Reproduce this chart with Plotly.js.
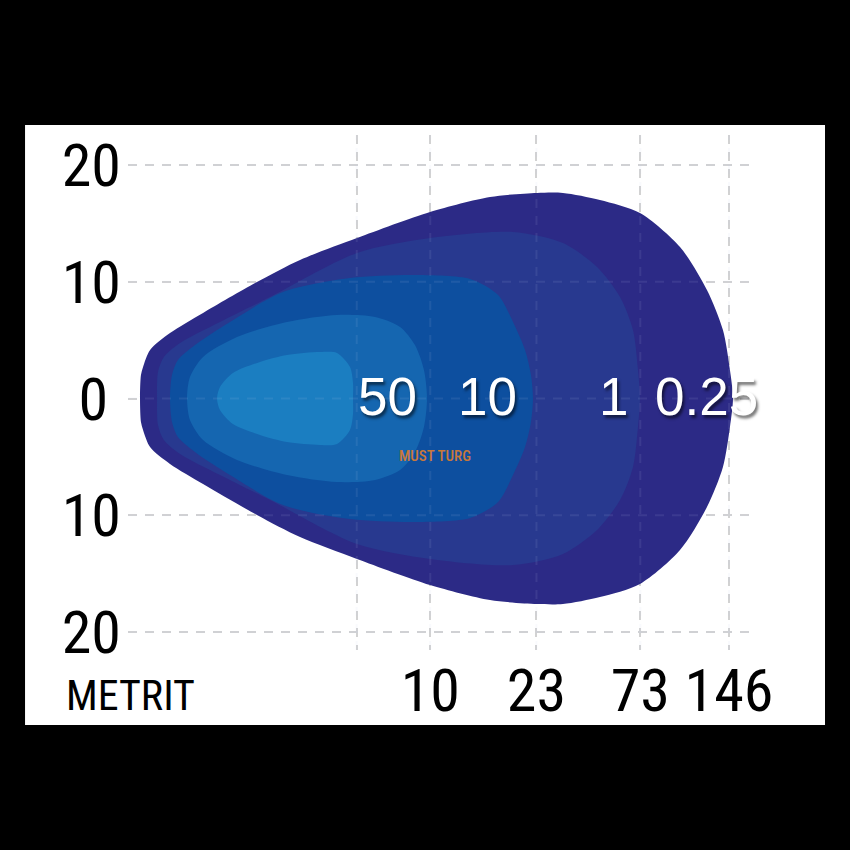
<!DOCTYPE html>
<html>
<head>
<meta charset="utf-8">
<script src="https://cdn.plot.ly/plotly-3.0.1.min.js"></script>
<style>html,body{margin:0;padding:0;background:#000;}#chart{width:850px;height:850px;}</style>
</head>
<body>
<div id="chart"></div>
<script>
// ---- data (chart units: lateral metres on y, schematic distance scale on x) ----
// distance grid lines and their labels
const distTicks = [19.6, 25.9, 35.0, 43.9, 51.5];
const distLabels = ['', '10', '23', '73', '146'];
// lateral ticks
const latTicks = [-20, -10, 0, 10, 20];
const latLabels = ['20', '10', '0', '10', '20'];

// isolux levels (lux) and their label positions along the centre line
const luxLevels = ['0.25', '1', '10', '50', 'core'];
const luxLabelText = ['50', '10', '1', '0.25'];
const luxLabelX = [22.2, 30.8, 41.6, 49.6];

// upper half outlines of each isolux contour (beam is symmetric about 0)
const c025X = [1.03, 1.11, 1.29, 1.89, 3.60, 6.43, 11.05, 14.74, 19.62, 25.88, 31.02, 35.05, 37.27, 40.44, 43.87, 47.30, 49.61, 50.98, 51.58, 51.84];
const c025Y = [0, 2.01, 2.70, 4.16, 5.61, 7.33, 9.98, 11.87, 13.75, 15.98, 17.27, 17.61, 17.61, 17.01, 15.89, 12.98, 9.30, 5.87, 2.44, 0];

const c1X = [2.49, 2.57, 3.08, 4.46, 7.88, 12.17, 19.62, 25.88, 32.99, 37.27, 40.19, 42.16, 43.27, 43.70, 43.87];
const c1Y = [0, 2.27, 3.56, 4.76, 6.56, 8.70, 12.47, 13.75, 14.27, 13.32, 11.27, 8.70, 5.87, 2.44, 0];

const c10X = [3.60, 3.77, 4.28, 5.74, 8.74, 13.28, 19.02, 24.76, 29.31, 31.71, 32.99, 34.02, 34.53, 34.70];
const c10Y = [0, 2.01, 3.30, 4.58, 6.56, 9.13, 10.33, 10.58, 10.24, 8.87, 6.56, 4.16, 2.01, 0];

const c50X = [5.06, 5.31, 6.43, 9.34, 13.62, 17.91, 21.17, 23.31, 24.59, 25.36, 25.62];
const c50Y = [0, 1.84, 3.56, 5.27, 6.56, 7.16, 6.98, 6.13, 4.58, 2.44, 0];

const cCoreX = [7.63, 7.88, 8.99, 11.31, 13.62, 16.45, 17.91, 19.02, 19.28, 19.28];
const cCoreY = [0, 0.99, 2.19, 3.13, 3.73, 3.98, 3.90, 2.70, 1.33, 0];

const contourColors = ['#2c2a86', '#28398f', '#0d4f9f', '#1566b0', '#1b7ec1'];

// ---- build closed outlines by mirroring the upper half ----
function closed(xs, ys) {
  const x = xs.slice(), y = ys.slice();
  for (let i = xs.length - 2; i >= 0; i--) { x.push(xs[i]); y.push(-ys[i]); }
  return {x, y};
}
const outlines = [[c025X, c025Y], [c1X, c1Y], [c10X, c10Y], [c50X, c50Y], [cCoreX, cCoreY]];
const traces = outlines.map((o, i) => {
  const c = closed(o[0], o[1]);
  return {
    type: 'scatter', mode: 'lines', x: c.x, y: c.y,
    fill: 'toself', fillcolor: contourColors[i],
    line: {width: 0, shape: 'spline', smoothing: 0.8, color: contourColors[i]},
    hoverinfo: 'skip', name: luxLevels[i], showlegend: false
  };
});

const narrow = 'Roboto Condensed, Liberation Sans Narrow, Arial Narrow, sans-serif';
// y labels are centred in the reference: pad single-digit labels with an invisible half-width spacer
const spacer = '<span style="color:transparent;font-size:26px">0</span>';
const latText = latLabels.map(t => t.length === 1 ? t + spacer : t);

const annotations = luxLabelText.map((t, i) => ({
  x: luxLabelX[i], y: 0, xref: 'x', yref: 'y', text: t, showarrow: false,
  xanchor: 'center', yanchor: 'middle', yshift: 2,
  font: {family: 'Liberation Sans, Arial, sans-serif', size: 53, color: '#ffffff',
         shadow: '2px 3px 3px rgba(0,0,0,0.55)'}
}));
annotations.push({
  xref: 'paper', yref: 'paper', x: -0.103, y: -0.088, xanchor: 'left', yanchor: 'middle',
  text: 'METRIT', showarrow: false,
  font: {family: narrow, size: 42, color: '#000000'}
});
annotations.push({
  xref: 'x', yref: 'y', x: 26.3, y: -4.9, xanchor: 'center', yanchor: 'middle',
  text: 'MUST TURG', showarrow: false,
  font: {family: narrow, size: 15, color: '#c9783a', weight: 500}
});

// faint grid overlay that shows through the beam, as in the reference
const gridOverlay = [];
distTicks.forEach(v => gridOverlay.push({
  type: 'line', xref: 'x', yref: 'paper', x0: v, x1: v, y0: 0, y1: 1, layer: 'above',
  line: {color: 'rgba(200,210,235,0.10)', width: 2, dash: '9px,8px'}
}));
latTicks.forEach(v => gridOverlay.push({
  type: 'line', xref: 'paper', yref: 'y', x0: 0, x1: 1, y0: v, y1: v, layer: 'above',
  line: {color: 'rgba(200,210,235,0.10)', width: 2, dash: '9px,8px'}
}));

const layout = {
  width: 850, height: 850,
  margin: {l: 128, r: 98, t: 135, b: 200},
  paper_bgcolor: '#000000',
  plot_bgcolor: 'rgba(0,0,0,0)',
  showlegend: false,
  xaxis: {
    range: [0, 53.47], fixedrange: true,
    tickmode: 'array', tickvals: distTicks, ticktext: distLabels,
    showgrid: true, gridcolor: '#d2d2d2', gridwidth: 2, griddash: '9px,8px',
    zeroline: false, showline: false, ticks: '', tickangle: 0,
    ticklabelstandoff: 0,
    tickfont: {family: narrow, size: 60, color: '#000000'}
  },
  yaxis: {
    range: [-21.55, 22.58], fixedrange: true,
    tickmode: 'array', tickvals: latTicks, ticktext: latText,
    showgrid: true, gridcolor: '#d2d2d2', gridwidth: 2, griddash: '9px,8px',
    zeroline: false, showline: false, ticks: '', tickangle: 0,
    ticklabelstandoff: 6,
    tickfont: {family: narrow, size: 60, color: '#000000'}
  },
  shapes: [{
    type: 'rect', xref: 'paper', yref: 'paper', layer: 'below',
    x0: -0.165, x1: 1.117, y0: -0.1456, y1: 1.0194,
    fillcolor: '#ffffff', line: {width: 0}
  }].concat(gridOverlay),
  annotations: annotations
};

Plotly.newPlot('chart', traces, layout, {displayModeBar: false, staticPlot: true});
</script>
</body>
</html>
